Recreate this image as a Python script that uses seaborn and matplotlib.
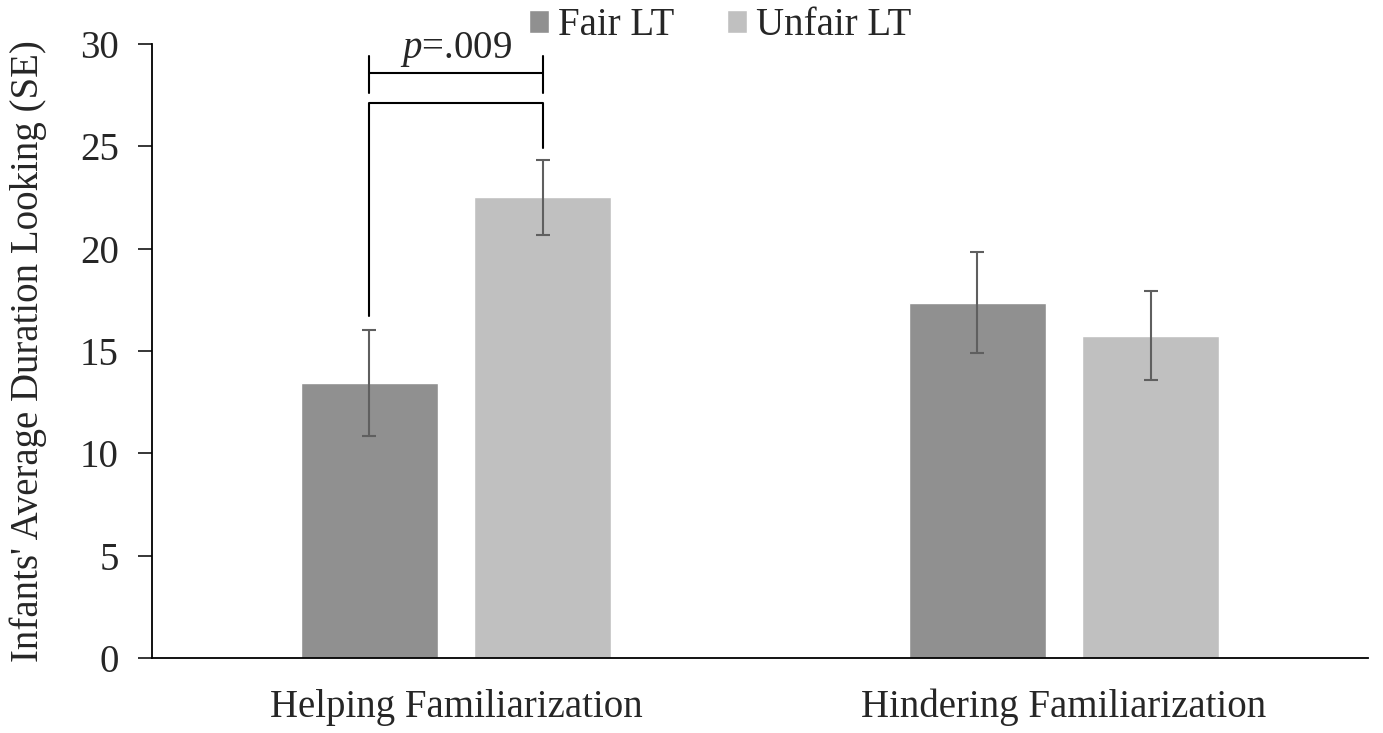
import pandas as pd
import matplotlib.pyplot as plt
import seaborn as sns

conditions = ["Helping Familiarization", "Hindering Familiarization"]
outcomes = ["Fair LT", "Unfair LT"]
fair_means = [13.45, 17.35]
unfair_means = [22.5, 15.75]
fair_se = [2.6, 2.47]
unfair_se = [1.83, 2.17]
p_label = "=.009"

df = pd.DataFrame({
    "condition": conditions * 2,
    "outcome": [outcomes[0]] * 2 + [outcomes[1]] * 2,
    "mean": fair_means + unfair_means,
    "se": fair_se + unfair_se,
})

sns.set_theme(style="white")
plt.rcParams["font.family"] = ["Liberation Serif", "DejaVu Serif"]
plt.rcParams["mathtext.fontset"] = "custom"
plt.rcParams["mathtext.it"] = "Liberation Serif:italic"
plt.rcParams["mathtext.rm"] = "Liberation Serif"

fs = 28

fig = plt.figure(figsize=(13.83, 7.33), dpi=100)
ax = fig.add_axes([0.11, 0.1023, 0.879, 0.8377])

sns.barplot(data=df, x="condition", y="mean", hue="outcome", order=conditions,
            hue_order=outcomes, palette=["#909090", "#c0c0c0"], width=0.571,
            gap=0.21, errorbar=None, saturation=1, ax=ax)

# error bars on the bar centres
for bars, errs in zip(ax.containers, [fair_se, unfair_se]):
    xs = [b.get_x() + b.get_width() / 2 for b in bars]
    ys = [b.get_height() for b in bars]
    ax.errorbar(xs, ys, yerr=errs, fmt="none", ecolor="#5f5f5f",
                elinewidth=1.5, capsize=5.3, capthick=1.5, zorder=3)

ax.set_ylim(0, 30)
ax.set_xlim(-0.5, 1.5)
ax.set_yticks(range(0, 31, 5))
ax.tick_params(axis="y", labelsize=fs, length=10, width=1.3, direction="out", left=True, pad=14)
ax.tick_params(axis="x", labelsize=fs, length=0, pad=22)
ax.set_xlabel("")
ax.set_ylabel("Infants' Average Duration Looking (SE)", fontsize=fs, labelpad=24)
for s in ["top", "right"]:
    ax.spines[s].set_visible(False)
for s in ["left", "bottom"]:
    ax.spines[s].set_color("black")
    ax.spines[s].set_linewidth(1.3)

# significance bracket for the helping condition
b0 = ax.containers[0][0]
b1 = ax.containers[1][0]
x0 = b0.get_x() + b0.get_width() / 2
x1 = b1.get_x() + b1.get_width() / 2
kw = dict(color="black", lw=1.5, clip_on=False)
ax.plot([x0, x0, x1, x1], [16.7, 27.1, 27.1, 24.9], **kw)
ax.plot([x0, x1], [28.6, 28.6], **kw)
ax.plot([x0, x0], [27.6, 29.4], **kw)
ax.plot([x1, x1], [27.6, 29.4], **kw)
ax.text((x0 + x1) / 2, 28.8, r"$\it{p}$" + p_label, ha="center", va="bottom",
        fontsize=fs, clip_on=False)

ax.legend(loc="center", bbox_to_anchor=(0.5206, 0.965), bbox_transform=fig.transFigure,
          ncol=2, frameon=False, fontsize=fs, handlelength=0.52, handleheight=0.52,
          handletextpad=0.22, columnspacing=1.35, borderpad=0)

fig.savefig("out.png", dpi=100)
